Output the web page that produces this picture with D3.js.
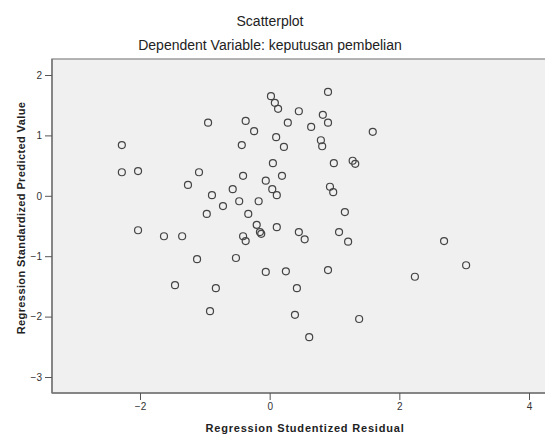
<!DOCTYPE html>
<html>
<head>
<meta charset="utf-8">
<script src="https://cdn.jsdelivr.net/npm/d3@7"></script>
<style>
  body { margin: 0; background: #fff; }
  svg { display: block; font-family: "Liberation Sans", Arial, sans-serif; }
</style>
</head>
<body>
<script>
// studentized residual (x) vs standardized predicted value (y)
let residual = [0.02, 0.08, 0.13, 0.45, 0.90, 0.82, 0.90, 0.28, 0.64, -0.95,
    -0.37, -0.24, 0.10, 0.22, -0.43, -2.28, -2.28, -2.03, -1.09, -1.26,
    0.05, 0.19, -0.41, -0.06, 0.04, 0.11, 0.79, 0.81, 1.59, 0.99,
    1.28, 1.32, 0.93, 0.98, -0.57, -0.47, -0.89, -0.72, -0.17, -0.97,
    -0.33, 1.16, -0.20, -0.15, -0.13, 0.11, -2.03, -1.63, -1.35, -0.41,
    -0.37, 0.45, 0.54, 1.07, 1.21, 2.69, 3.03, 2.24, -1.12, -0.52,
    -0.06, 0.25, 0.90, -1.46, -0.83, 0.42, -0.92, 0.39, 1.38, 0.61]
let predicted = [1.65, 1.54, 1.44, 1.40, 1.72, 1.34, 1.21, 1.21, 1.14, 1.21,
    1.24, 1.07, 0.97, 0.81, 0.84, 0.84, 0.39, 0.41, 0.39, 0.18,
    0.54, 0.33, 0.33, 0.25, 0.11, 0.01, 0.92, 0.82, 1.06, 0.54,
    0.58, 0.53, 0.15, 0.06, 0.11, -0.09, 0.01, -0.17, -0.09, -0.30,
    -0.30, -0.27, -0.48, -0.60, -0.63, -0.52, -0.57, -0.67, -0.67, -0.67,
    -0.75, -0.60, -0.72, -0.60, -0.76, -0.75, -1.15, -1.34, -1.05, -1.03,
    -1.26, -1.25, -1.23, -1.48, -1.53, -1.53, -1.91, -1.97, -2.04, -2.34]
let xTicks = [-2, 0, 2, 4]
let yTicks = [2, 1, 0, -1, -2, -3]

let W = 545, H = 437
let plotLeft = 52, plotTop = 59, plotRight = 560, plotBottom = 393

let svg = d3.select('body')
    .append('svg')
    .attr('width', W)
    .attr('height', H)

let x = d3.scaleLinear().domain([-2, 4]).range([140, 529])
let y = d3.scaleLinear().domain([-3, 2]).range([377, 75])

// plot frame
svg.append('rect')
    .attr('x', plotLeft)
    .attr('y', plotTop)
    .attr('width', plotRight - plotLeft)
    .attr('height', plotBottom - plotTop)
    .style('fill', '#f0f0f0')
    .style('stroke', '#9a9a9a')
    .style('stroke-width', 1.5)

svg.append('line')
    .attr('x1', plotLeft).attr('x2', plotLeft)
    .attr('y1', plotTop).attr('y2', plotBottom)
    .style('stroke', '#777')
    .style('stroke-width', 1.5)
svg.append('line')
    .attr('x1', plotLeft).attr('x2', plotRight)
    .attr('y1', plotBottom).attr('y2', plotBottom)
    .style('stroke', '#777')
    .style('stroke-width', 1.5)

// axes
let xAxis = svg.append('g')
    .attr('transform', `translate(0,${plotBottom})`)
    .call(d3.axisBottom(x).tickValues(xTicks).tickSize(7).tickFormat(d3.format('d')))
xAxis.select('.domain').remove()
xAxis.selectAll('line').style('stroke', '#555')
xAxis.selectAll('text').style('font-size', '10px').style('fill', '#333')

let yAxis = svg.append('g')
    .attr('transform', `translate(${plotLeft},0)`)
    .call(d3.axisLeft(y).tickValues(yTicks).tickSize(7).tickFormat(d3.format('d')))
yAxis.select('.domain').remove()
yAxis.selectAll('line').style('stroke', '#555')
yAxis.selectAll('text').style('font-size', '10px').style('fill', '#333')

// points
svg.append('g')
    .selectAll('circle')
    .data(residual)
    .join('circle')
    .attr('cx', (d) => x(d))
    .attr('cy', (d, i) => y(predicted[i]))
    .attr('r', 3.5)
    .style('fill', 'none')
    .style('stroke', '#444')
    .style('stroke-width', 1.2)

// titles
svg.append('text')
    .attr('x', 270).attr('y', 26)
    .attr('text-anchor', 'middle')
    .style('font-size', '14px')
    .style('fill', '#222')
    .text('Scatterplot')

svg.append('text')
    .attr('x', 270).attr('y', 50)
    .attr('text-anchor', 'middle')
    .style('font-size', '14px')
    .style('fill', '#222')
    .text('Dependent Variable: keputusan pembelian')

svg.append('text')
    .attr('x', 305).attr('y', 432)
    .attr('text-anchor', 'middle')
    .style('font-size', '11px')
    .style('font-weight', 'bold')
    .style('letter-spacing', '0.8px')
    .style('fill', '#222')
    .text('Regression Studentized Residual')

svg.append('text')
    .attr('transform', 'translate(25,218) rotate(-90)')
    .attr('text-anchor', 'middle')
    .style('font-size', '11px')
    .style('font-weight', 'bold')
    .style('letter-spacing', '0.4px')
    .style('fill', '#222')
    .text('Regression Standardized Predicted Value')
</script>
</body>
</html>
